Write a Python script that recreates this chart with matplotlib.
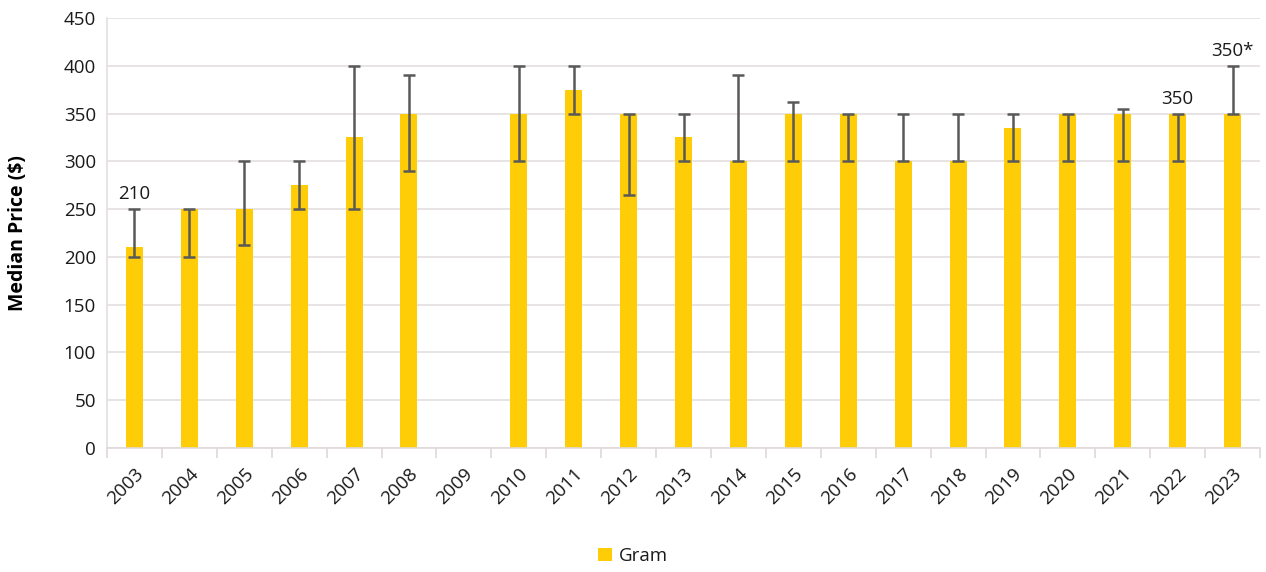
import numpy as np
import matplotlib.pyplot as plt

years = ['2003', '2004', '2005', '2006', '2007', '2008', '2009', '2010', '2011', '2012',
         '2013', '2014', '2015', '2016', '2017', '2018', '2019', '2020', '2021', '2022', '2023']
median = [210, 250, 250, 275, 325, 350, np.nan, 350, 375, 350,
          325, 300, 350, 350, 300, 300, 335, 350, 350, 350, 350]
err_low = [200, 200, 212, 250, 250, 290, np.nan, 300, 350, 265,
           300, 300, 300, 300, 300, 300, 300, 300, 300, 300, 350]
err_high = [250, 250, 300, 300, 400, 390, np.nan, 400, 400, 350,
            350, 390, 362, 350, 350, 350, 350, 350, 355, 350, 400]
labels = {'2003': '210', '2022': '350', '2023': '350*'}

plt.rcParams['font.family'] = ['Open Sans', 'DejaVu Sans']
plt.rcParams['text.color'] = '#1a1a1a'
plt.rcParams['xtick.color'] = '#1a1a1a'
plt.rcParams['ytick.color'] = '#1a1a1a'

fig = plt.figure(figsize=(12.66, 5.72), dpi=100)
ax = fig.add_axes([0.0845, 0.2168, 0.9108, 0.7517])

x = np.arange(len(years))
med = np.array(median, dtype=float)
lo = med - np.array(err_low, dtype=float)
hi = np.array(err_high, dtype=float) - med

ax.bar(x, np.nan_to_num(med), width=0.31, color='#FFCC08', label='Gram', zorder=2)
ax.errorbar(x, med, yerr=[lo, hi], fmt='none', ecolor='#595959', elinewidth=1.8,
            capsize=4.5, capthick=1.8, zorder=3)

for i, y in enumerate(years):
    if y in labels:
        top = err_high[i]
        ax.text(x[i], top + 6, labels[y], ha='center', va='bottom', fontsize=13.5)

ax.set_xlim(-0.5, len(years) - 0.5)
ax.set_ylim(0, 450)
ax.set_yticks(np.arange(0, 451, 50))
ax.grid(axis='y', color='#e5dfdf', linewidth=1.2, zorder=0)
ax.set_axisbelow(True)

ax.set_xticks(x)
ax.set_xticklabels(years, rotation=45, ha='right', rotation_mode='anchor', fontsize=13.5)
ax.tick_params(axis='x', which='major', length=0, pad=12)
ax.set_xticks(np.arange(-0.5, len(years), 1), minor=True)
ax.tick_params(axis='x', which='minor', length=7, color='#e0d8d8', width=1.2)
ax.tick_params(axis='y', length=0, labelsize=13.5, pad=8)

for s in ['top', 'right']:
    ax.spines[s].set_visible(False)
ax.spines['left'].set_color('#e5dfdf')
ax.spines['bottom'].set_color('#e0d8d8')
ax.spines['left'].set_linewidth(1.2)
ax.spines['bottom'].set_linewidth(1.2)

ax.set_ylabel('Median Price ($)', fontsize=14, fontweight='bold', labelpad=26)

fig.legend(loc='center', bbox_to_anchor=(0.5, 0.028), frameon=False, fontsize=13.5,
           handlelength=0.75, handleheight=0.75, handletextpad=0.35)

fig.savefig('out.png', dpi=100)
